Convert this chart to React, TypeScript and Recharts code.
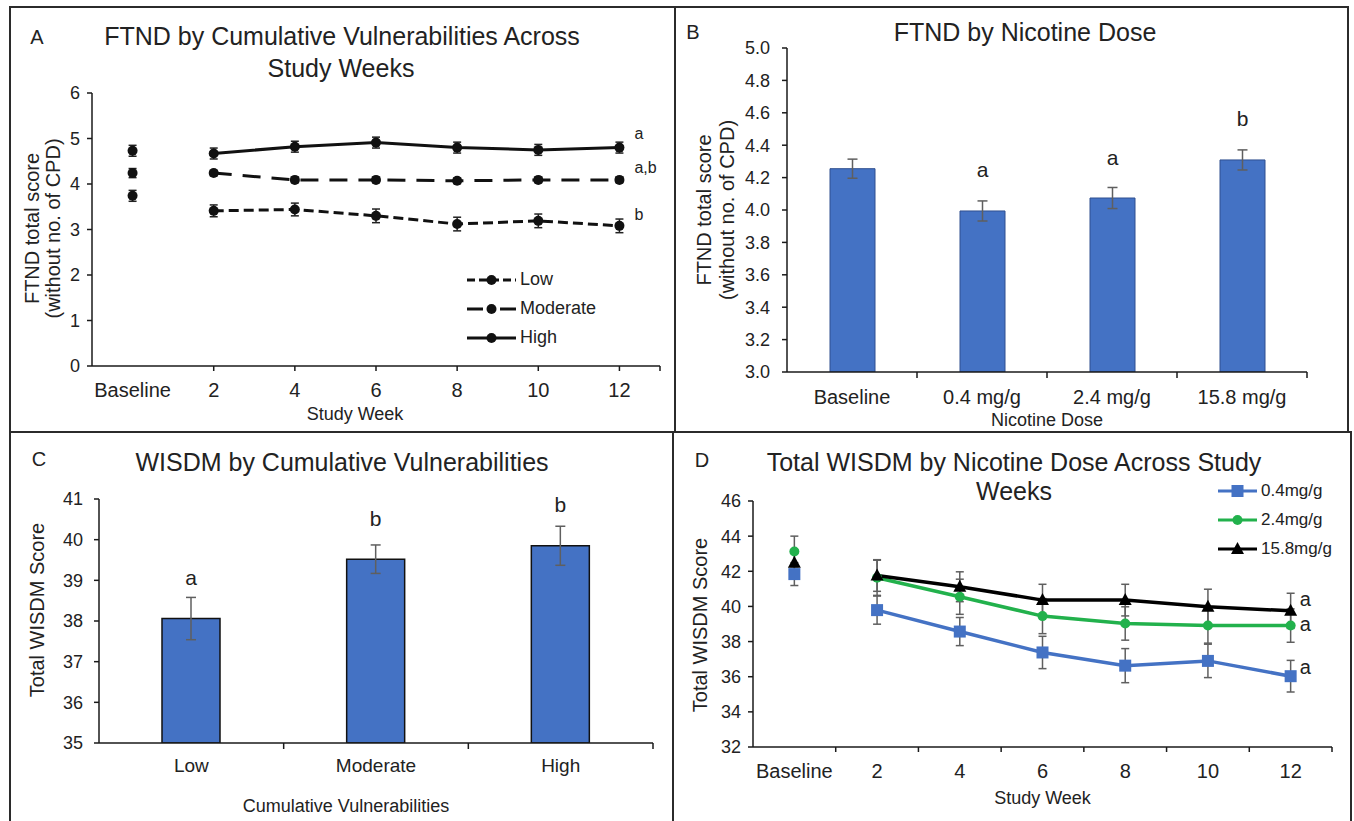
import React from 'react'
import { LineChart, Line, BarChart, Bar, XAxis, YAxis, ErrorBar, LabelList, Legend } from 'recharts'

const FONT = '"Liberation Sans", Arial, sans-serif'
const INK = '#222'
const AXIS = '#1a1a1a'
const ERR_GRAY = '#5f5f5f'
const BAR_BLUE = '#4472c4'
const FRAME = '2px solid #2b2b2b'

// shared x categories for the two line panels
const WEEKS = ['Baseline', '2', '4', '6', '8', '10', '12']

// A: FTND by cumulative vulnerabilities (mean, sem)
const A_LOW = [3.74, 3.41, 3.44, 3.3, 3.12, 3.19, 3.08]
const A_LOW_SEM = [0.12, 0.13, 0.14, 0.15, 0.15, 0.15, 0.15]
const A_MOD = [4.24, 4.24, 4.09, 4.09, 4.07, 4.09, 4.09]
const A_MOD_SEM = [0.1, 0.06, 0.06, 0.06, 0.06, 0.06, 0.06]
const A_HIGH = [4.73, 4.67, 4.82, 4.91, 4.8, 4.75, 4.8]
const A_HIGH_SEM = [0.12, 0.12, 0.12, 0.12, 0.12, 0.12, 0.12]

// B: FTND by nicotine dose
const DOSES = ['Baseline', '0.4 mg/g', '2.4 mg/g', '15.8 mg/g']
const B_MEAN = [4.255, 3.994, 4.074, 4.309]
const B_SEM = [0.059, 0.062, 0.065, 0.062]
const B_SIG = ['', 'a', 'a', 'b']
const B_TICKS = [3.0, 3.2, 3.4, 3.6, 3.8, 4.0, 4.2, 4.4, 4.6, 4.8, 5.0]

// C: WISDM by cumulative vulnerabilities
const VULN = ['Low', 'Moderate', 'High']
const C_MEAN = [38.06, 39.52, 39.85]
const C_SEM = [0.52, 0.35, 0.48]
const C_SIG = ['a', 'b', 'b']
const C_TICKS = [35, 36, 37, 38, 39, 40, 41]

// D: total WISDM by nicotine dose across weeks
const D_04 = [41.84, 39.79, 38.57, 37.38, 36.63, 36.9, 36.03]
const D_04_SEM = [0.65, 0.8, 0.8, 0.92, 0.97, 0.95, 0.9]
const D_24 = [43.13, 41.63, 40.55, 39.45, 39.03, 38.91, 38.91]
const D_24_SEM = [0.87, 1.0, 1.0, 1.0, 0.95, 1.0, 0.95]
const D_158 = [42.49, 41.76, 41.12, 40.36, 40.36, 39.98, 39.75]
const D_158_SEM = [0.6, 0.9, 0.85, 0.9, 0.9, 1.0, 1.0]
const D_TICKS = [32, 34, 36, 38, 40, 42, 44, 46]

type Shape = 'circle' | 'square' | 'triangle'
interface LineSeries {
  key: string; name: string; mean: number[]; sem: number[]; sig: string; sigDy: number
  color: string; dash?: string; legendDash?: string; shape: Shape
}

const A_SERIES: LineSeries[] = [
  { key: 'low', name: 'Low', mean: A_LOW, sem: A_LOW_SEM, sig: 'b', sigDy: -11, color: '#111', dash: '10 5', legendDash: '8 4', shape: 'circle' },
  { key: 'mod', name: 'Moderate', mean: A_MOD, sem: A_MOD_SEM, sig: 'a,b', sigDy: -12, color: '#111', dash: '18 11', legendDash: '16 17', shape: 'circle' },
  { key: 'high', name: 'High', mean: A_HIGH, sem: A_HIGH_SEM, sig: 'a', sigDy: -14, color: '#111', shape: 'circle' },
]

const D_SERIES: LineSeries[] = [
  { key: 'd04', name: '0.4mg/g', mean: D_04, sem: D_04_SEM, sig: 'a', sigDy: -9, color: '#4472c4', shape: 'square' },
  { key: 'd24', name: '2.4mg/g', mean: D_24, sem: D_24_SEM, sig: 'a', sigDy: -2, color: '#22b14c', shape: 'circle' },
  { key: 'd158', name: '15.8mg/g', mean: D_158, sem: D_158_SEM, sig: 'a', sigDy: -12, color: '#000', shape: 'triangle' },
]

// baseline is drawn as its own unconnected point, weeks 2-12 as the line
function weekRows(series: LineSeries[]) {
  return WEEKS.map((week, i) => {
    const row: Record<string, any> = { x: i + 0.5, week }
    series.forEach((s) => {
      const base = i === 0
      row[s.key] = base ? null : s.mean[i]
      row[s.key + 'Err'] = base ? null : s.sem[i]
      row[s.key + 'Base'] = base ? s.mean[i] : null
      row[s.key + 'BaseErr'] = base ? s.sem[i] : null
      row[s.key + 'Sig'] = i === WEEKS.length - 1 ? s.sig : null
    })
    return row
  })
}

function Marker({ shape, cx, cy, color }: { shape: Shape; cx: number; cy: number; color: string }) {
  if (shape === 'square') return <rect x={cx - 6} y={cy - 6} width={12} height={12} fill={color} />
  if (shape === 'triangle') return <polygon points={`${cx},${cy - 7} ${cx + 6.5},${cy + 5} ${cx - 6.5},${cy + 5}`} fill={color} />
  return <circle cx={cx} cy={cy} r={5} fill={color} />
}

const dotFor = (s: LineSeries) => (p: any) => {
  const k = `${s.key}-${p.index}`
  if (p.cy == null || Number.isNaN(p.cy)) return <g key={k} />
  return <Marker key={k} shape={s.shape} cx={p.cx} cy={p.cy} color={s.color} />
}

const txt = { fill: INK, fontFamily: FONT }

const yTitle = (lines: string[], dxs: number[], dy: number, size: number) => (p: any) => {
  const vb = p.viewBox
  const cy = vb.y + vb.height / 2 + dy
  return (
    <g>
      {lines.map((t, i) => {
        const x = vb.x + vb.width + dxs[i]
        return (
          <text key={t} x={x} y={cy} transform={`rotate(-90 ${x} ${cy})`} textAnchor="middle" dominantBaseline="central" fontSize={size} {...txt}>{t}</text>
        )
      })}
    </g>
  )
}

const xTitle = (label: string, dx: number, dy: number, size: number) => (p: any) => {
  const vb = p.viewBox
  return <text x={vb.x + vb.width / 2 + dx} y={vb.y + dy} textAnchor="middle" dominantBaseline="central" fontSize={size} {...txt}>{label}</text>
}

// line panels: numeric x so ticks can sit on centres or band edges like the original
const weekTick = (labelDy: number, hasLine: (v: number) => boolean) => (p: any) => {
  const v = p.payload.value as number
  const label = Number.isInteger(v) ? null : WEEKS[Math.floor(v)]
  return (
    <g>
      {hasLine(v) && <line x1={p.x} x2={p.x} y1={p.y} y2={p.y + 5} stroke={AXIS} strokeWidth={1.5} />}
      {label && <text x={p.x} y={p.y + labelDy} textAnchor="middle" dominantBaseline="central" fontSize={20} {...txt}>{label}</text>}
    </g>
  )
}

const bandTick = (labelDy: number, half: number, size: number) => (p: any) => (
  <g>
    <line x1={p.x + half} x2={p.x + half} y1={p.y} y2={p.y + 6} stroke={AXIS} strokeWidth={1.5} />
    <text x={p.x} y={p.y + labelDy} textAnchor="middle" dominantBaseline="central" fontSize={size} {...txt}>{p.payload.value}</text>
  </g>
)

const sigRight = (dx: number, dy: number, size: number) => (p: any) => {
  if (!p.value) return null
  const vb = p.viewBox ?? {}
  const x = vb.x ?? p.x
  const y = vb.y ?? p.y
  return <text x={x + dx} y={y + dy} dominantBaseline="central" fontSize={size} {...txt}>{p.value}</text>
}

const sigAbove = (gap: number, size: number) => (p: any) => {
  if (!p.value) return null
  const vb = p.viewBox ?? p
  return <text x={vb.x + vb.width / 2} y={vb.y - gap} textAnchor="middle" dominantBaseline="central" fontSize={size} {...txt}>{p.value}</text>
}

function SeriesLegend({ items, lineW, rowH, size }: { items: LineSeries[]; lineW: number; rowH: number; size: number }) {
  return (
    <div style={{ fontFamily: FONT, fontSize: size, color: INK }}>
      {items.map((s) => (
        <div key={s.key} style={{ display: 'flex', alignItems: 'center', height: rowH }}>
          <svg width={lineW} height={16} style={{ display: 'block' }}>
            <line x1={0} x2={lineW} y1={8} y2={8} stroke={s.color} strokeWidth={3} strokeDasharray={s.legendDash} />
            <Marker shape={s.shape} cx={lineW / 2} cy={8} color={s.color} />
          </svg>
          <span style={{ marginLeft: 4, whiteSpace: 'nowrap' }}>{s.name}</span>
        </div>
      ))}
    </div>
  )
}

function Panel({ left, top, width, height, children }: { left: number; top: number; width: number; height: number; children: React.ReactNode }) {
  return (
    <div style={{ position: 'absolute', left, top, width, height, boxSizing: 'border-box', borderTop: FRAME, borderLeft: FRAME, borderRight: FRAME }}>
      <div style={{ position: 'absolute', left: -2, top: -2 }}>{children}</div>
    </div>
  )
}

function Caption({ x, y, size, children }: { x: number; y: number; size: number; children: React.ReactNode }) {
  return (
    <div style={{ position: 'absolute', left: x, top: y, transform: 'translate(-50%, -50%)', fontSize: size, lineHeight: 1, whiteSpace: 'nowrap', color: INK, fontFamily: FONT, zIndex: 2 }}>
      {children}
    </div>
  )
}

const axisStyle = { stroke: AXIS, strokeWidth: 1.5 }
const yTick = (size: number) => ({ fontSize: size, fill: INK, fontFamily: FONT })

// axes get a real width/height; margins are reduced by the same amount
const AX_W = 30
const AX_H = 30
const withAxes = (m: { top: number; right: number; bottom: number; left: number }) => ({
  top: m.top, right: m.right, bottom: m.bottom - AX_H, left: m.left - AX_W,
})

function LinePanel({ series, width, height, margin, yDomain, yTicks, tick, xTicks, xLabel, yLabel, legend, errColor, strokeW, sigDx, sigSize }: any) {
  const rows = weekRows(series)
  return (
    <LineChart width={width} height={height} data={rows} margin={withAxes(margin)}>
      <XAxis type="number" dataKey="x" domain={[0, WEEKS.length]} ticks={xTicks} interval={0} tick={tick} tickLine={false} tickSize={0} tickMargin={0} height={AX_H} axisLine={axisStyle} label={xLabel} />
      <YAxis type="number" domain={yDomain} ticks={yTicks} interval={0} width={AX_W} tickSize={5} tickMargin={7} tickLine={axisStyle} axisLine={axisStyle} tick={yTick(18)} label={yLabel} />
      {series.map((s: LineSeries) => (
        <Line key={s.key} dataKey={s.key} stroke={s.color} strokeWidth={strokeW} strokeDasharray={s.dash} dot={dotFor(s)} activeDot={false} isAnimationActive={false} legendType="none">
          <ErrorBar dataKey={s.key + 'Err'} direction="y" width={4} stroke={errColor} strokeWidth={1.5} isAnimationActive={false} />
          <LabelList dataKey={s.key + 'Sig'} content={sigRight(sigDx, s.sigDy, sigSize)} />
        </Line>
      ))}
      {series.map((s: LineSeries) => (
        <Line key={s.key + 'b'} dataKey={s.key + 'Base'} stroke="none" dot={dotFor(s)} activeDot={false} isAnimationActive={false} legendType="none">
          <ErrorBar dataKey={s.key + 'BaseErr'} direction="y" width={4} stroke={errColor} strokeWidth={1.5} isAnimationActive={false} />
        </Line>
      ))}
      <Legend layout="vertical" align="center" verticalAlign="middle" wrapperStyle={legend.style} content={() => legend.node} />
    </LineChart>
  )
}

const bRows = DOSES.map((dose, i) => ({ dose, mean: B_MEAN[i], sem: B_SEM[i], sig: B_SIG[i] }))
const cRows = VULN.map((level, i) => ({ level, mean: C_MEAN[i], sem: C_SEM[i], sig: C_SIG[i] }))

export default function App() {
  const aSize = { width: 667, height: 427 }
  const aMargin = { top: 87, right: 16, bottom: 67, left: 83 }
  const bSize = { width: 675, height: 427 }
  const bMargin = { top: 42, right: 42, bottom: 61, left: 113 }
  const cSize = { width: 665, height: 390 }
  const cMargin = { top: 68, right: 21, bottom: 78, left: 90 }
  const dSize = { width: 680, height: 390 }
  const dMargin = { top: 70, right: 20, bottom: 74, left: 81 }

  const bHalf = (bSize.width - bMargin.left - bMargin.right) / DOSES.length / 2
  const cHalf = (cSize.width - cMargin.left - cMargin.right) / VULN.length / 2

  const centres = WEEKS.map((_, i) => i + 0.5)
  const edges = WEEKS.map((_, i) => i + 1)

  return (
    <div style={{ position: 'absolute', left: 0, top: 0, width: 1354, height: 821, background: '#fff', overflow: 'hidden', fontFamily: FONT }}>
      {/* A */}
      <Panel left={9} top={6} width={aSize.width} height={aSize.height}>
        <Caption x={28} y={31} size={20}>A</Caption>
        <Caption x={333} y={30} size={25}>FTND by Cumulative Vulnerabilities Across</Caption>
        <Caption x={332} y={62} size={25}>Study Weeks</Caption>
        <LinePanel
          series={A_SERIES} width={aSize.width} height={aSize.height} margin={aMargin}
          yDomain={[0, 6]} yTicks={[0, 1, 2, 3, 4, 5, 6]}
          xTicks={[...centres, WEEKS.length]}
          tick={weekTick(24, (v) => v === WEEKS.length || (!Number.isInteger(v) && v > 1))}
          xLabel={xTitle('Study Week', -21, 48, 18)}
          yLabel={yTitle(['FTND total score', '(without no. of CPD)'], [-60, -39], -1, 20)}
          sigDx={15} sigSize={16} errColor="#222" strokeW={3}
          legend={{ style: { left: 458, top: 259, width: 200 }, node: <SeriesLegend items={A_SERIES} lineW={49} rowH={29} size={18} /> }}
        />
      </Panel>

      {/* B */}
      <Panel left={674} top={6} width={bSize.width} height={bSize.height}>
        <Caption x={19} y={26} size={20}>B</Caption>
        <Caption x={351} y={26} size={25}>FTND by Nicotine Dose</Caption>
        <BarChart width={bSize.width} height={bSize.height} data={bRows} margin={withAxes(bMargin)} barCategoryGap={0}>
          <XAxis dataKey="dose" type="category" height={AX_H} tickSize={0} tickMargin={0} tickLine={false} interval={0} tick={bandTick(25, bHalf, 20)} axisLine={axisStyle} label={xTitle('Nicotine Dose', 0, 48, 18)} />
          <YAxis type="number" domain={[3, 5]} ticks={B_TICKS} interval={0} allowDataOverflow width={AX_W} tickSize={5} tickMargin={12} tickLine={axisStyle} axisLine={axisStyle} tick={yTick(18)} tickFormatter={(v: number) => v.toFixed(1)} label={yTitle(['FTND total score', '(without no. of CPD)'], [-83, -60], 0, 20)} />
          <Bar dataKey="mean" barSize={45} fill={BAR_BLUE} stroke="#2f4f8f" strokeWidth={1} isAnimationActive={false}>
            <ErrorBar dataKey="sem" direction="y" width={5} stroke={ERR_GRAY} strokeWidth={1.5} isAnimationActive={false} />
            <LabelList dataKey="sig" content={sigAbove(41, 21)} />
          </Bar>
        </BarChart>
      </Panel>

      {/* C */}
      <Panel left={9} top={431} width={cSize.width} height={cSize.height}>
        <Caption x={30} y={28} size={20}>C</Caption>
        <Caption x={333} y={31} size={25}>WISDM by Cumulative Vulnerabilities</Caption>
        <BarChart width={cSize.width} height={cSize.height} data={cRows} margin={withAxes(cMargin)} barCategoryGap={0}>
          <XAxis dataKey="level" type="category" height={AX_H} tickSize={0} tickMargin={0} tickLine={false} interval={0} tick={bandTick(22, cHalf, 19)} axisLine={axisStyle} label={xTitle('Cumulative Vulnerabilities', -30, 63, 18)} />
          <YAxis type="number" domain={[35, 41]} ticks={C_TICKS} interval={0} allowDataOverflow width={AX_W} tickSize={5} tickMargin={11} tickLine={axisStyle} axisLine={axisStyle} tick={yTick(18)} label={yTitle(['Total WISDM Score'], [-62], -11, 20)} />
          <Bar dataKey="mean" barSize={58} fill={BAR_BLUE} stroke="#111" strokeWidth={1.5} isAnimationActive={false}>
            <ErrorBar dataKey="sem" direction="y" width={5} stroke={ERR_GRAY} strokeWidth={1.5} isAnimationActive={false} />
            <LabelList dataKey="sig" content={sigAbove(41, 21)} />
          </Bar>
        </BarChart>
      </Panel>

      {/* D */}
      <Panel left={672} top={431} width={dSize.width} height={dSize.height}>
        <Caption x={30} y={29} size={20}>D</Caption>
        <Caption x={342} y={31} size={25}>Total WISDM by Nicotine Dose Across Study</Caption>
        <Caption x={342} y={60} size={25}>Weeks</Caption>
        <LinePanel
          series={D_SERIES} width={dSize.width} height={dSize.height} margin={dMargin}
          yDomain={[32, 46]} yTicks={D_TICKS}
          xTicks={[...centres, ...edges]}
          tick={weekTick(24, (v) => Number.isInteger(v))}
          xLabel={xTitle('Study Week', 0, 51, 18)}
          yLabel={yTitle(['Total WISDM Score'], [-53], 1, 20)}
          sigDx={9} sigSize={20} errColor={ERR_GRAY} strokeW={3.5}
          legend={{ style: { left: 546, top: 45, width: 140 }, node: <SeriesLegend items={D_SERIES} lineW={39} rowH={29} size={17} /> }}
        />
      </Panel>
    </div>
  )
}
